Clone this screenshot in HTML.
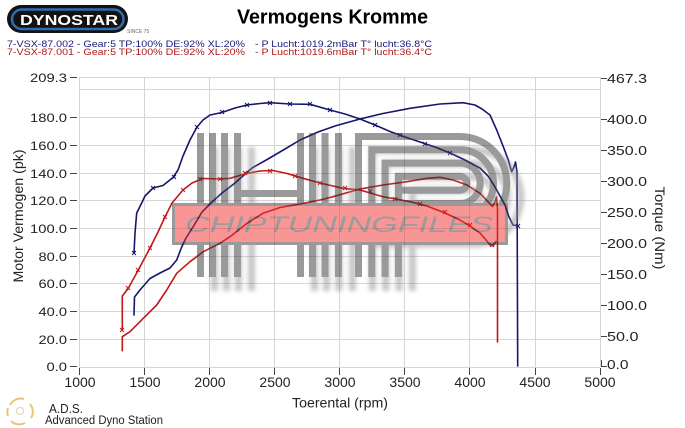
<!DOCTYPE html>
<html><head><meta charset="utf-8"><style>
html,body{margin:0;padding:0;background:#fff;width:685px;height:428px;overflow:hidden}
svg{display:block}
text{font-family:"Liberation Sans",Arial,sans-serif}
</style></head><body>
<svg width="685" height="428" viewBox="0 0 685 428" xmlns="http://www.w3.org/2000/svg">
<defs>
<filter id="bl" x="-20%" y="-20%" width="140%" height="140%"><feGaussianBlur stdDeviation="2.2"/></filter>
<g id="wm" fill="none" stroke-width="7">
 <line x1="200.5" y1="133" x2="200.5" y2="277"/>
 <line x1="212.5" y1="133" x2="212.5" y2="277"/>
 <line x1="224.5" y1="133" x2="224.5" y2="277"/>
 <line x1="237.5" y1="133" x2="237.5" y2="277"/>
 <line x1="237.5" y1="193.5" x2="300.5" y2="193.5"/>
 <line x1="300.5" y1="133" x2="300.5" y2="277"/>
 <line x1="312.5" y1="133" x2="312.5" y2="277"/>
 <line x1="325" y1="133" x2="325" y2="277"/>
 <line x1="338.5" y1="133" x2="338.5" y2="277"/>
 <path d="M358.5,277 V136.5 H460 A46.8,46.8 0 0 1 460,230.1 H358.5"/>
 <path d="M371.8,277 V149.8 H460 A33.5,33.5 0 0 1 460,216.8 H371.8"/>
 <path d="M385.1,277 V163.1 H460 A20.2,20.2 0 0 1 460,203.5 H385.1"/>
 <path d="M398.4,277 V176.4 H460 A6.9,6.9 0 0 1 460,190.2 H398.4"/>
</g>
</defs>
<rect width="685" height="428" fill="#fff"/>

<!-- grid -->
<g stroke="#d6d6d6" stroke-width="1">
 <line x1="79.5" y1="77" x2="79.5" y2="367"/>
 <line x1="144.5" y1="77" x2="144.5" y2="367"/>
 <line x1="209.5" y1="77" x2="209.5" y2="367"/>
 <line x1="274.5" y1="77" x2="274.5" y2="367"/>
 <line x1="339.5" y1="77" x2="339.5" y2="367"/>
 <line x1="404.5" y1="77" x2="404.5" y2="367"/>
 <line x1="469.5" y1="77" x2="469.5" y2="367"/>
 <line x1="535.5" y1="77" x2="535.5" y2="367"/>
 <line x1="600.5" y1="77" x2="600.5" y2="367"/>
 <line x1="79" y1="77.5" x2="600" y2="77.5"/>
 <line x1="79" y1="89.5" x2="600" y2="89.5"/>
 <line x1="79" y1="117.5" x2="600" y2="117.5"/>
 <line x1="79" y1="145.5" x2="600" y2="145.5"/>
 <line x1="79" y1="173.5" x2="600" y2="173.5"/>
 <line x1="79" y1="200.5" x2="600" y2="200.5"/>
 <line x1="79" y1="228.5" x2="600" y2="228.5"/>
 <line x1="79" y1="256.5" x2="600" y2="256.5"/>
 <line x1="79" y1="283.5" x2="600" y2="283.5"/>
 <line x1="79" y1="311.5" x2="600" y2="311.5"/>
 <line x1="79" y1="339.5" x2="600" y2="339.5"/>
 <line x1="79" y1="367.5" x2="600" y2="367.5"/>
</g>

<!-- ticks -->
<g stroke="#444" stroke-width="1">
 <line x1="70" y1="77.5" x2="77" y2="77.5"/>
 <line x1="70" y1="117.5" x2="77" y2="117.5"/>
 <line x1="70" y1="145.5" x2="77" y2="145.5"/>
 <line x1="70" y1="173.5" x2="77" y2="173.5"/>
 <line x1="70" y1="200.5" x2="77" y2="200.5"/>
 <line x1="70" y1="228.5" x2="77" y2="228.5"/>
 <line x1="70" y1="256.5" x2="77" y2="256.5"/>
 <line x1="70" y1="283.5" x2="77" y2="283.5"/>
 <line x1="70" y1="311.5" x2="77" y2="311.5"/>
 <line x1="70" y1="339.5" x2="77" y2="339.5"/>
 <line x1="70" y1="366.5" x2="77" y2="366.5"/>
 <line x1="79.5" y1="368" x2="79.5" y2="375"/>
 <line x1="144.5" y1="368" x2="144.5" y2="375"/>
 <line x1="209.5" y1="368" x2="209.5" y2="375"/>
 <line x1="274.5" y1="368" x2="274.5" y2="375"/>
 <line x1="339.5" y1="368" x2="339.5" y2="375"/>
 <line x1="404.5" y1="368" x2="404.5" y2="375"/>
 <line x1="469.5" y1="368" x2="469.5" y2="375"/>
 <line x1="535.5" y1="368" x2="535.5" y2="375"/>
 <line x1="600.5" y1="368" x2="600.5" y2="375"/>
 <line x1="601" y1="78.5" x2="607" y2="78.5"/>
 <line x1="601" y1="119.5" x2="607" y2="119.5"/>
 <line x1="601" y1="150.5" x2="607" y2="150.5"/>
 <line x1="601" y1="181.5" x2="607" y2="181.5"/>
 <line x1="601" y1="212.5" x2="607" y2="212.5"/>
 <line x1="601" y1="243.5" x2="607" y2="243.5"/>
 <line x1="601" y1="274.5" x2="607" y2="274.5"/>
 <line x1="601" y1="305.5" x2="607" y2="305.5"/>
 <line x1="601" y1="336.5" x2="607" y2="336.5"/>
 <line x1="601" y1="366.5" x2="607" y2="366.5"/>
 <line x1="601.5" y1="360" x2="601.5" y2="367"/>
</g>

<!-- left labels -->
<g font-size="12" fill="#222" text-anchor="end">
 <text x="67" y="82" textLength="37" lengthAdjust="spacingAndGlyphs">209.3</text>
 <text x="67" y="122" textLength="37" lengthAdjust="spacingAndGlyphs">180.0</text>
 <text x="67" y="150" textLength="37" lengthAdjust="spacingAndGlyphs">160.0</text>
 <text x="67" y="178" textLength="37" lengthAdjust="spacingAndGlyphs">140.0</text>
 <text x="67" y="205" textLength="37" lengthAdjust="spacingAndGlyphs">120.0</text>
 <text x="67" y="233" textLength="37" lengthAdjust="spacingAndGlyphs">100.0</text>
 <text x="67" y="261" textLength="28.5" lengthAdjust="spacingAndGlyphs">80.0</text>
 <text x="67" y="288" textLength="28.5" lengthAdjust="spacingAndGlyphs">60.0</text>
 <text x="67" y="316" textLength="28.5" lengthAdjust="spacingAndGlyphs">40.0</text>
 <text x="67" y="344" textLength="28.5" lengthAdjust="spacingAndGlyphs">20.0</text>
 <text x="67" y="371" textLength="20.5" lengthAdjust="spacingAndGlyphs">0.0</text>
</g>
<!-- right labels -->
<g font-size="12.5" fill="#222">
 <text x="607" y="83" textLength="40" lengthAdjust="spacingAndGlyphs">467.3</text>
 <text x="607" y="124" textLength="40" lengthAdjust="spacingAndGlyphs">400.0</text>
 <text x="607" y="155" textLength="40" lengthAdjust="spacingAndGlyphs">350.0</text>
 <text x="607" y="186" textLength="40" lengthAdjust="spacingAndGlyphs">300.0</text>
 <text x="607" y="217" textLength="40" lengthAdjust="spacingAndGlyphs">250.0</text>
 <text x="607" y="248" textLength="40" lengthAdjust="spacingAndGlyphs">200.0</text>
 <text x="607" y="279" textLength="40" lengthAdjust="spacingAndGlyphs">150.0</text>
 <text x="607" y="310" textLength="40" lengthAdjust="spacingAndGlyphs">100.0</text>
 <text x="607" y="341" textLength="31.5" lengthAdjust="spacingAndGlyphs">50.0</text>
 <text x="607" y="369" textLength="21.5" lengthAdjust="spacingAndGlyphs">0.0</text>
</g>
<!-- x labels -->
<g font-size="14" fill="#222" text-anchor="middle">
 <text x="80" y="387">1000</text>
 <text x="145" y="387">1500</text>
 <text x="210" y="387">2000</text>
 <text x="275" y="387">2500</text>
 <text x="340" y="387">3000</text>
 <text x="405" y="387">3500</text>
 <text x="470" y="387">4000</text>
 <text x="535" y="387">4500</text>
 <text x="600" y="387">5000</text>
</g>
<text x="340" y="407.5" font-size="14" fill="#222" text-anchor="middle" textLength="96" lengthAdjust="spacingAndGlyphs">Toerental (rpm)</text>
<text transform="translate(23,216) rotate(-90)" font-size="14" fill="#222" text-anchor="middle" textLength="133" lengthAdjust="spacingAndGlyphs">Motor Vermogen (pk)</text>
<text transform="translate(655,228) rotate(90)" font-size="14" fill="#222" text-anchor="middle" textLength="83" lengthAdjust="spacingAndGlyphs">Torque (Nm)</text>

<!-- curves -->
<g fill="none" stroke-width="1.6" stroke-linejoin="round" stroke-linecap="round">
 <polyline stroke="#16166e" points="134,253 135,233 136.7,213 141.7,203 145,196 153,188 163,185.5 173,177.5 178,170 183,156 190,140 197,127 203,120 210,115 222,112.5 235,108 247,105 260,103.5 270,102.7 290,104 310,104.3 330,110 345,114 360,119 375,125 390,131.5 405,137 420,142 435,147 450,153 465,160 480,168 488,176 495,187 500,196 505,205 509,217 513,225 518,226"/>
 <polyline stroke="#16166e" points="134,315 134.5,297 140,290 150,278.5 160,273 170,268 176.7,260 181.7,247 186,238 193,227 202,212 212,202 222,193 235,183 252,168 268,159 285,149 300,140 318,132 335,126 360,119 383,113.5 410,108.3 440,104 463,102.7 475,105 482,109 490,115 496.7,130 503.3,146.7 508.3,160 511.7,171.7 514,167 515.5,162 517,172 517.7,366"/>
 <polyline stroke="#c01818" points="122.3,330 122.3,296 128.3,288.3 138.3,270 150,248 158,232 165,217 172,203 183,190 192,183 203,178.5 220,179 230,178.3 247,173.3 260,171 273,170.5 287,173.5 303,178.3 320,183 343,188.3 360,190 383,196.7 410,201.7 427,206 445,213 460,220 470,226 480,233 486,240 490,245 493,246 496,241.5"/>
 <polyline stroke="#c01818" points="122.3,350.7 122.3,336.7 130,331.7 143.3,318.3 156.7,305 166.7,290 176.7,273.3 190,261.7 203.3,251.7 220,243.3 230,236.7 247,223.3 263,213.3 280,207.5 300,204 320,200 333,196.7 360,189 383,185 407,181.7 427,178.3 440,177.3 453,180 467,185 480,193.3 488,201.7 492.5,206.5 495,202 496.5,197 497.5,210 497.5,342"/>
</g>
<!-- markers -->
<g stroke="#16166e" stroke-width="1" fill="none">
 <path d="M132,251l4,4m0-4l-4,4 M151,186l4,4m0-4l-4,4 M172,175l4,4m0-4l-4,4 M195,125l4,4m0-4l-4,4 M220,110l4,4m0-4l-4,4 M245,103l4,4m0-4l-4,4 M268,101l4,4m0-4l-4,4 M288,102l4,4m0-4l-4,4 M308,102l4,4m0-4l-4,4 M328,108l4,4m0-4l-4,4 M373,123l4,4m0-4l-4,4 M398,133l4,4m0-4l-4,4 M423,142l4,4m0-4l-4,4 M448,151l4,4m0-4l-4,4 M516,224l4,4m0-4l-4,4"/>
</g>
<g stroke="#c01818" stroke-width="1" fill="none">
 <path d="M120,328l4,4m0-4l-4,4 M126,286l4,4m0-4l-4,4 M136,268l4,4m0-4l-4,4 M148,246l4,4m0-4l-4,4 M163,215l4,4m0-4l-4,4 M181,188l4,4m0-4l-4,4 M198,177l4,4m0-4l-4,4 M218,177l4,4m0-4l-4,4 M243,171l4,4m0-4l-4,4 M268,169l4,4m0-4l-4,4 M293,174l4,4m0-4l-4,4 M318,181l4,4m0-4l-4,4 M343,186l4,4m0-4l-4,4 M368,189l4,4m0-4l-4,4 M393,197l4,4m0-4l-4,4 M418,202l4,4m0-4l-4,4 M443,210l4,4m0-4l-4,4 M468,223l4,4m0-4l-4,4 M490,243l4,4m0-4l-4,4"/>
</g>

<!-- watermark -->
<g opacity="0.5">
 <use href="#wm" transform="translate(14,14)" stroke="#8f8f8f" filter="url(#bl)"/>
 <use href="#wm" stroke="#383838"/>
 <rect x="173.5" y="204.5" width="333" height="39" fill="#f22e2e" stroke="#383838" stroke-width="3"/>
 <text x="185" y="232" font-size="22" font-style="italic" fill="#3a3a3a" textLength="308" lengthAdjust="spacingAndGlyphs">CHIPTUNINGFILES</text>
</g>

<!-- title -->
<text x="332.5" y="23.5" font-size="20" font-weight="bold" fill="#000" text-anchor="middle" textLength="191" lengthAdjust="spacingAndGlyphs">Vermogens Kromme</text>

<!-- legend -->
<g font-size="9.5">
 <text x="7" y="47" fill="#1a1a7a" textLength="238" lengthAdjust="spacingAndGlyphs">7-VSX-87.002 - Gear:5 TP:100% DE:92% XL:20%</text>
 <text x="255" y="47" fill="#1a1a7a" textLength="177" lengthAdjust="spacingAndGlyphs">- P Lucht:1019.2mBar T° lucht:36.8°C</text>
 <text x="7" y="55" fill="#b01818" textLength="238" lengthAdjust="spacingAndGlyphs">7-VSX-87.001 - Gear:5 TP:100% DE:92% XL:20%</text>
 <text x="255" y="55" fill="#b01818" textLength="177" lengthAdjust="spacingAndGlyphs">- P Lucht:1019.6mBar T° lucht:36.4°C</text>
</g>

<!-- Dynostar logo -->
<rect x="7" y="5" width="121" height="28" rx="14" fill="#121212"/>
<rect x="12" y="9.5" width="111.5" height="19.5" rx="9.75" fill="none" stroke="#2f6db3" stroke-width="2.5"/>
<text x="20" y="25" font-size="15" font-weight="bold" fill="#fff" textLength="98" lengthAdjust="spacingAndGlyphs">DYNOSTAR</text>
<text x="127" y="33" font-size="5" fill="#666">SINCE 75</text>

<!-- ADS logo -->
<g fill="none" stroke="#e0be5a" stroke-width="2" opacity="0.85">
 <path d="M10,405 A12,12 0 0 1 24,399"/>
 <path d="M30,404 A12,12 0 0 1 31,418"/>
 <path d="M25,423 A12,12 0 0 1 11,421"/>
 <path d="M8,416 A12,12 0 0 1 8,408"/>
 <circle cx="20" cy="411" r="3.5" stroke-width="1" stroke="#d8c9a0"/>
</g>
<text x="49" y="413" font-size="13" fill="#222" textLength="34" lengthAdjust="spacingAndGlyphs">A.D.S.</text>
<text x="45" y="424" font-size="11.5" fill="#222" textLength="118" lengthAdjust="spacingAndGlyphs">Advanced Dyno Station</text>
</svg>
</body></html>
